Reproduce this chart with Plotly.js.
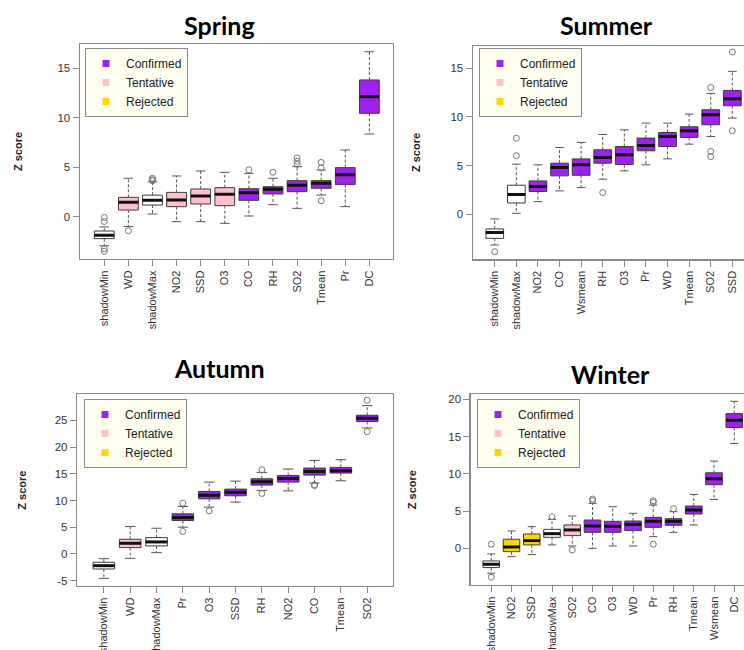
<!DOCTYPE html>
<html><head><meta charset="utf-8">
<script src="https://cdn.plot.ly/plotly-3.0.1.min.js"></script>
<style>html,body{margin:0;padding:0;background:#fff}#chart{width:744px;height:650px}</style>
</head><body><div id="chart"></div>
<script>
// ---------------- Spring ----------------
const springVars   = ['shadowMin','WD','shadowMax','NO2','SSD','O3','CO','RH','SO2','Tmean','Pr','DC'];
const springStatus = ['Shadow','Tentative','Shadow','Tentative','Tentative','Tentative','Confirmed','Confirmed','Confirmed','Confirmed','Confirmed','Confirmed'];
const springLow  = [-2.9,-0.97,0.3,-0.47,-0.47,-0.64,0.1,1.24,0.87,2.21,1.04,8.36];
const springQ1   = [-2.18,0.70,1.2,1.04,1.31,1.14,1.68,2.32,2.55,2.89,3.26,10.44];
const springMed  = [-1.85,1.48,1.68,1.71,2.11,2.3,2.45,2.79,3.19,3.39,4.26,12.11];
const springQ3   = [-1.41,1.98,2.2,2.48,2.82,2.95,2.85,3.05,3.66,3.66,4.97,13.8];
const springHigh = [-1.0,3.9,3.55,4.13,4.63,4.5,4.4,3.9,5.07,4.73,6.75,16.64];
const springOutVar = ['shadowMin','shadowMin','shadowMin','shadowMin','WD','shadowMax','shadowMax','shadowMax','CO','RH','SO2','SO2','SO2','Tmean','Tmean','Tmean'];
const springOutVal = [-0.05,-0.45,-3.2,-3.45,-1.38,3.65,3.75,3.9,4.75,4.5,5.3,5.6,5.95,5.5,4.93,1.64];

// ---------------- Summer ----------------
const summerVars   = ['shadowMin','shadowMax','NO2','CO','Wsmean','RH','O3','Pr','WD','Tmean','SO2','SSD'];
const summerStatus = ['Shadow','Shadow','Confirmed','Confirmed','Confirmed','Confirmed','Confirmed','Confirmed','Confirmed','Confirmed','Confirmed','Confirmed'];
const summerLow  = [-3.15,0.1,1.3,2.4,2.74,3.6,4.45,5.07,5.68,7.19,7.98,9.86];
const summerQ1   = [-2.47,1.16,2.33,3.94,4.0,5.24,5.1,6.51,6.95,7.88,9.18,11.13];
const summerMed  = [-1.88,2.02,2.84,4.79,5.07,5.82,6.1,7.05,7.98,8.56,10.2,11.85];
const summerQ3   = [-1.51,2.98,3.42,5.24,5.68,6.61,6.95,7.81,8.39,8.97,10.72,12.7];
const summerHigh = [-0.48,5.14,5.07,6.85,7.36,8.18,8.66,9.35,9.35,10.27,12.4,14.66];
const summerOutVar = ['shadowMin','shadowMax','shadowMax','RH','SO2','SO2','SO2','SSD','SSD'];
const summerOutVal = [-3.84,6.0,7.8,2.23,13.0,6.44,5.92,16.64,8.56];

// ---------------- Autumn ----------------
const autumnVars   = ['shadowMin','WD','shadowMax','Pr','O3','SSD','RH','NO2','CO','Tmean','SO2'];
const autumnStatus = ['Shadow','Tentative','Shadow','Confirmed','Confirmed','Confirmed','Confirmed','Confirmed','Confirmed','Confirmed','Confirmed'];
const autumnLow  = [-4.56,-0.81,0.25,5.0,8.75,9.69,11.88,11.81,13.25,13.69,23.56];
const autumnQ1   = [-2.81,1.19,1.5,6.25,10.31,10.88,12.88,13.44,14.75,15.13,24.75];
const autumnMed  = [-2.19,2.0,2.25,6.81,11.0,11.56,13.5,14.13,15.44,15.56,25.38];
const autumnQ3   = [-1.56,2.75,3.06,7.5,11.69,12.13,14.06,14.69,16.06,16.19,25.94];
const autumnHigh = [-0.88,5.13,4.81,8.88,13.44,13.63,15.25,15.88,17.5,17.63,27.75];
const autumnOutVar = ['Pr','Pr','O3','RH','RH','CO','CO','SO2','SO2'];
const autumnOutVal = [9.5,4.2,8.06,15.75,11.31,12.94,12.8,28.75,22.88];

// ---------------- Winter ----------------
const winterVars   = ['shadowMin','NO2','SSD','shadowMax','SO2','CO','O3','WD','Pr','RH','Tmean','Wsmean','DC'];
const winterStatus = ['Shadow','Rejected','Rejected','Shadow','Tentative','Confirmed','Confirmed','Confirmed','Confirmed','Confirmed','Confirmed','Confirmed','Confirmed'];
const winterLow  = [-3.35,-1.12,-0.85,0.45,0.31,0.0,0.31,0.31,1.56,2.14,3.13,6.56,14.06];
const winterQ1   = [-2.59,-0.45,0.45,1.47,1.7,2.14,2.14,2.37,2.81,3.08,4.6,8.53,16.21];
const winterMed  = [-2.14,0.18,1.03,1.96,2.46,2.99,2.95,3.21,3.62,3.62,5.13,9.33,17.19];
const winterQ3   = [-1.7,1.21,1.92,2.54,3.13,3.79,3.62,3.66,4.15,3.97,5.67,10.13,18.08];
const winterHigh = [-0.76,2.32,2.9,3.88,4.33,6.03,5.58,4.69,5.8,4.91,7.23,11.7,19.73];
const winterOutVar = ['shadowMin','shadowMin','shadowMax','SO2','CO','CO','Pr','Pr','Pr','RH'];
const winterOutVal = [0.54,-3.88,4.24,-0.22,6.6,6.4,6.38,6.16,0.54,5.31];

const panelTitles = ['Spring','Summer','Autumn','Winter'];
const legendLabels = ['Confirmed','Tentative','Rejected'];

// ---------------- styling ----------------
const FILL = {Confirmed:'#A020F0', Tentative:'#FFC0CB', Rejected:'#FFD700', Shadow:'#FFFFFF'};
const FONT = 'Liberation Sans, Arial, sans-serif';
const W = 744, H = 650;
const BOXW = 0.82, CAPW = 0.2;

const panels = [
  {vars:springVars, status:springStatus, low:springLow, q1:springQ1, med:springMed, q3:springQ3, high:springHigh, outVar:springOutVar, outVal:springOutVal,
   ax:'', leg:'legend', px:[79.7,393], py:[44,259], xr:[-0.02,12.98], yr:[-4.23,17.42], yticks:[0,5,10,15], mirrorY:true,
   legPos:[85,48], title:[219.5,25], standoff:32},
  {vars:summerVars, status:summerStatus, low:summerLow, q1:summerQ1, med:summerMed, q3:summerQ3, high:summerHigh, outVar:summerOutVar, outVal:summerOutVal,
   ax:'2', leg:'legend2', px:[472.7,744], py:[45.7,259.3], xr:[-0.02,12.54], yr:[-4.62,17.29], yticks:[0,5,10,15], mirrorY:false,
   legPos:[479,48], title:[606,25], standoff:27},
  {vars:autumnVars, status:autumnStatus, low:autumnLow, q1:autumnQ1, med:autumnMed, q3:autumnQ3, high:autumnHigh, outVar:autumnOutVar, outVal:autumnOutVal,
   ax:'3', leg:'legend3', px:[77,393], py:[394.3,586], xr:[-0.02,11.98], yr:[-5.99,29.86], yticks:[-5,0,5,10,15,20,25], mirrorY:true,
   legPos:[84,399], title:[219.5,368], standoff:25},
  {vars:winterVars, status:winterStatus, low:winterLow, q1:winterQ1, med:winterMed, q3:winterQ3, high:winterHigh, outVar:winterOutVar, outVal:winterOutVal,
   ax:'4', leg:'legend4', px:[470.6,744], py:[394.3,585], xr:[-0.02,13.48], yr:[-4.93,20.67], yticks:[0,5,10,15,20], mirrorY:false,
   legPos:[477,399], title:[610.5,374], standoff:29}
];

const traces = [];
const layout = {
  width:W, height:H, margin:{l:0,r:0,t:0,b:0}, paper_bgcolor:'#fff', plot_bgcolor:'#fff',
  font:{family:FONT, size:11, color:'#333'}, showlegend:true, boxmode:'overlay', annotations:[]
};

panels.forEach((p, k) => {
  const xa = 'x'+p.ax, ya = 'y'+p.ax;
  const n = p.vars.length;
  // boxes grouped by status (fill colour)
  ['Shadow','Tentative','Rejected','Confirmed'].forEach(st => {
    const idx = p.status.map((s,i)=>s===st?i:-1).filter(i=>i>=0);
    if (!idx.length) return;
    traces.push({type:'box', xaxis:xa, yaxis:ya, showlegend:false, hoverinfo:'skip',
      x: idx.map(i=>i+1), q1: idx.map(i=>p.q1[i]), median: idx.map(i=>p.med[i]), q3: idx.map(i=>p.q3[i]),
      lowerfence: idx.map(i=>p.q1[i]), upperfence: idx.map(i=>p.q3[i]),
      width:BOXW, whiskerwidth:0, boxpoints:false, fillcolor:FILL[st], line:{color:'#3c3c3c', width:1}});
  });
  // dashed whiskers, solid staples, thick medians
  const wx=[], wy=[], cx=[], cy=[], mx=[], my=[];
  for (let i=0;i<n;i++){
    const xi=i+1;
    wx.push(xi,xi,null,xi,xi,null); wy.push(p.q3[i],p.high[i],null,p.q1[i],p.low[i],null);
    cx.push(xi-CAPW,xi+CAPW,null,xi-CAPW,xi+CAPW,null); cy.push(p.high[i],p.high[i],null,p.low[i],p.low[i],null);
    mx.push(xi-BOXW/2,xi+BOXW/2,null); my.push(p.med[i],p.med[i],null);
  }
  traces.push({type:'scatter', mode:'lines', xaxis:xa, yaxis:ya, showlegend:false, hoverinfo:'skip',
    x:wx, y:wy, line:{color:'#555', width:1, dash:'3px,2px'}});
  traces.push({type:'scatter', mode:'lines', xaxis:xa, yaxis:ya, showlegend:false, hoverinfo:'skip',
    x:cx, y:cy, line:{color:'#555', width:1}});
  traces.push({type:'scatter', mode:'lines', xaxis:xa, yaxis:ya, showlegend:false, hoverinfo:'skip',
    x:mx, y:my, line:{color:'#111', width:3}});
  // outliers
  traces.push({type:'scatter', mode:'markers', xaxis:xa, yaxis:ya, showlegend:false,
    x:p.outVar.map(v=>p.vars.indexOf(v)+1), y:p.outVal,
    marker:{symbol:'circle-open', size:6, color:'#777', line:{width:1}}});
  // legend entries
  legendLabels.forEach(lbl => {
    traces.push({type:'scatter', mode:'markers', xaxis:xa, yaxis:ya, legend:p.leg, name:lbl, showlegend:true,
      x:[null], y:[null], marker:{symbol:'square', size:7, color:FILL[lbl]}});
  });

  layout['xaxis'+p.ax] = {domain:[p.px[0]/W, p.px[1]/W], anchor:ya, range:p.xr, fixedrange:true,
    tickmode:'array', tickvals:p.vars.map((v,i)=>i+1), ticktext:p.vars, tickangle:-90,
    showline:true, mirror:true, linecolor:'#8a8a8a', linewidth:1.2, ticks:'outside', ticklen:6, tickcolor:'#8a8a8a',
    showgrid:false, zeroline:false, tickfont:{family:FONT, size:11, color:'#333'}};
  layout['yaxis'+p.ax] = {domain:[1-p.py[1]/H, 1-p.py[0]/H], anchor:xa, range:p.yr, fixedrange:true,
    tickmode:'array', tickvals:p.yticks, ticktext:p.yticks.map(String),
    showline:true, mirror:p.mirrorY, linecolor:'#8a8a8a', linewidth:1.2, ticks:'outside', ticklen:6, tickcolor:'#8a8a8a',
    showgrid:false, zeroline:false, tickfont:{family:FONT, size:11.5, color:'#333'},
    title:{text:'Z score', font:{family:FONT, size:11, color:'#222', weight:'bold'}, standoff:p.standoff}};
  layout[p.leg] = {x:p.legPos[0]/W, y:1-p.legPos[1]/H, xanchor:'left', yanchor:'top',
    bgcolor:'#FFFFF0', bordercolor:'#8a8a8a', borderwidth:1, itemwidth:30,
    font:{family:FONT, size:12, color:'#222'}, tracegroupgap:0};
  layout.annotations.push({xref:'paper', yref:'paper', x:p.title[0]/W, y:1-p.title[1]/H, xanchor:'center', yanchor:'middle',
    text:'<b>'+panelTitles[k]+'</b>', showarrow:false, font:{family:'Lato, Liberation Sans, sans-serif', size:25, color:'#000'}});
});

Plotly.newPlot('chart', traces, layout, {displayModeBar:false, staticPlot:true});
</script>
</body></html>
